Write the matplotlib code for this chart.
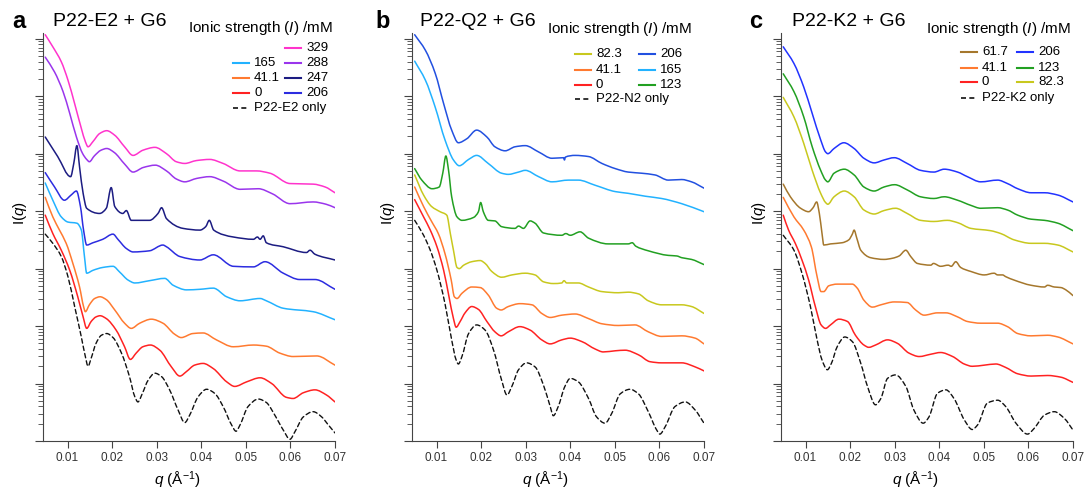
import numpy as np
import matplotlib
matplotlib.use("Agg")
import matplotlib.pyplot as plt
from matplotlib.lines import Line2D
from matplotlib.path import Path
from matplotlib.patches import PathPatch
from matplotlib.ticker import LogLocator, NullFormatter, FormatStrFormatter

plt.rcParams['font.family'] = ['Liberation Sans', 'DejaVu Sans']
plt.rcParams['mathtext.fontset'] = 'custom'
plt.rcParams['mathtext.rm'] = 'Liberation Sans'
plt.rcParams['mathtext.it'] = 'Liberation Sans:italic'

# SAXS curves: (q / A^-1, log10 I), offsets as drawn

# ---- panel a : P22-E2 + G6
e2_329 = [(0.0050,7.07),(0.0067,6.86),(0.0086,6.60),(0.0101,6.28),(0.0116,5.87),(0.0131,5.44),(0.0140,5.21),(0.0146,5.12),(0.0157,5.21),(0.0172,5.35),(0.0188,5.40),(0.0206,5.32),(0.0228,5.12),(0.0247,4.97),(0.0269,5.06),(0.0296,5.11),(0.0322,5.00),(0.0344,4.86),(0.0363,4.83),(0.0389,4.88),(0.0419,4.90),(0.0449,4.83),(0.0487,4.70),(0.0524,4.70),(0.0554,4.66),(0.0599,4.48),(0.0651,4.47),(0.0678,4.42),(0.0700,4.32)]
e2_288 = [(0.0050,6.68),(0.0071,6.42),(0.0090,6.08),(0.0105,5.70),(0.0120,5.29),(0.0134,5.00),(0.0143,4.90),(0.0149,4.86),(0.0160,4.96),(0.0175,5.06),(0.0188,5.09),(0.0205,5.02),(0.0228,4.82),(0.0247,4.68),(0.0270,4.76),(0.0297,4.80),(0.0322,4.70),(0.0344,4.56),(0.0363,4.51),(0.0390,4.57),(0.0419,4.60),(0.0450,4.52),(0.0487,4.38),(0.0528,4.39),(0.0560,4.30),(0.0599,4.13),(0.0651,4.16),(0.0680,4.12),(0.0700,4.06)]
e2_247 = [(0.0050,5.29),(0.0078,4.95),(0.0107,4.60),(0.0114,4.83),(0.0121,5.14),(0.0127,4.77),(0.0135,4.31),(0.0143,4.05),(0.0172,3.96),(0.0187,4.05),(0.0198,4.41),(0.0206,4.08),(0.0224,3.96),(0.0232,4.01),(0.0243,3.84),(0.0284,3.84),(0.0303,3.96),(0.0311,4.06),(0.0322,3.87),(0.0359,3.70),(0.0397,3.67),(0.0410,3.73),(0.0418,3.84),(0.0428,3.67),(0.0472,3.55),(0.0517,3.51),(0.0526,3.55),(0.0532,3.51),(0.0539,3.57),(0.0546,3.45),(0.0584,3.38),(0.0636,3.28),(0.0644,3.32),(0.0655,3.25),(0.0700,3.15)]
e2_206 = [(0.0050,4.67),(0.0071,4.42),(0.0093,4.19),(0.0108,4.28),(0.0120,4.35),(0.0129,4.08),(0.0136,3.67),(0.0143,3.41),(0.0157,3.45),(0.0179,3.51),(0.0202,3.60),(0.0213,3.51),(0.0232,3.35),(0.0247,3.29),(0.0284,3.31),(0.0314,3.41),(0.0322,3.38),(0.0352,3.21),(0.0397,3.15),(0.0427,3.24),(0.0472,3.04),(0.0517,3.03),(0.0543,3.12),(0.0584,2.92),(0.0621,2.81),(0.0655,2.81),(0.0700,2.64)]
e2_165 = [(0.0050,4.49),(0.0067,4.19),(0.0086,3.90),(0.0101,3.81),(0.0121,3.79),(0.0131,3.67),(0.0138,3.21),(0.0143,2.92),(0.0157,2.97),(0.0179,3.02),(0.0202,3.04),(0.0217,2.94),(0.0236,2.80),(0.0251,2.75),(0.0284,2.79),(0.0318,2.83),(0.0337,2.71),(0.0367,2.63),(0.0397,2.64),(0.0427,2.66),(0.0457,2.51),(0.0487,2.44),(0.0532,2.48),(0.0546,2.44),(0.0584,2.31),(0.0651,2.25),(0.0700,2.11)]
e2_41 = [(0.0050,4.24),(0.0067,3.90),(0.0082,3.67),(0.0097,3.44),(0.0112,3.09),(0.0127,2.68),(0.0136,2.34),(0.0140,2.25),(0.0149,2.37),(0.0161,2.48),(0.0173,2.51),(0.0187,2.46),(0.0206,2.28),(0.0228,2.05),(0.0243,1.96),(0.0262,2.05),(0.0288,2.12),(0.0314,2.05),(0.0340,1.86),(0.0355,1.80),(0.0381,1.87),(0.0404,1.88),(0.0434,1.76),(0.0472,1.64),(0.0517,1.67),(0.0546,1.65),(0.0576,1.53),(0.0606,1.47),(0.0659,1.48),(0.0700,1.32)]
e2_0 = [(0.0050,3.93),(0.0067,3.61),(0.0086,3.32),(0.0105,2.97),(0.0123,2.51),(0.0135,2.16),(0.0143,1.96),(0.0153,2.08),(0.0164,2.16),(0.0173,2.18),(0.0187,2.13),(0.0209,1.93),(0.0228,1.64),(0.0241,1.42),(0.0254,1.53),(0.0269,1.64),(0.0286,1.67),(0.0307,1.58),(0.0333,1.29),(0.0352,1.13),(0.0367,1.21),(0.0385,1.32),(0.0404,1.35),(0.0427,1.26),(0.0457,1.03),(0.0475,0.95),(0.0502,1.03),(0.0532,1.10),(0.0558,1.00),(0.0591,0.76),(0.0606,0.74),(0.0629,0.84),(0.0655,0.89),(0.0681,0.80),(0.0700,0.68)]
e2_only = [(0.0050,3.60),(0.0067,3.44),(0.0086,3.21),(0.0101,2.86),(0.0116,2.34),(0.0131,1.81),(0.0140,1.47),(0.0146,1.30),(0.0153,1.44),(0.0164,1.70),(0.0176,1.84),(0.0188,1.87),(0.0202,1.80),(0.0221,1.53),(0.0239,1.12),(0.0251,0.77),(0.0258,0.68),(0.0268,0.83),(0.0281,1.06),(0.0296,1.18),(0.0311,1.12),(0.0329,0.89),(0.0348,0.54),(0.0363,0.32),(0.0374,0.45),(0.0393,0.77),(0.0412,0.90),(0.0430,0.83),(0.0449,0.60),(0.0468,0.28),(0.0478,0.17),(0.0487,0.28),(0.0505,0.60),(0.0528,0.73),(0.0546,0.67),(0.0565,0.45),(0.0584,0.19),(0.0599,0.03),(0.0610,0.16),(0.0629,0.42),(0.0651,0.51),(0.0670,0.42),(0.0685,0.28),(0.0700,0.14)]

# ---- panel b : P22-Q2 + G6
q2_206 = [(0.0051,7.07),(0.0075,6.80),(0.0097,6.40),(0.0116,5.87),(0.0134,5.41),(0.0149,5.19),(0.0168,5.26),(0.0190,5.41),(0.0213,5.29),(0.0231,5.12),(0.0254,5.05),(0.0276,5.12),(0.0299,5.14),(0.0329,5.03),(0.0359,4.92),(0.0385,4.93),(0.0387,4.89),(0.0389,4.94),(0.0411,4.97),(0.0441,4.95),(0.0471,4.83),(0.0501,4.74),(0.0530,4.68),(0.0560,4.66),(0.0590,4.63),(0.0620,4.54),(0.0650,4.55),(0.0672,4.51),(0.0700,4.40)]
q2_165 = [(0.0051,6.61),(0.0075,6.28),(0.0097,5.81),(0.0119,5.24),(0.0138,4.89),(0.0151,4.79),(0.0172,4.90),(0.0190,4.97),(0.0216,4.83),(0.0246,4.66),(0.0261,4.64),(0.0284,4.68),(0.0299,4.71),(0.0329,4.60),(0.0359,4.51),(0.0396,4.54),(0.0418,4.54),(0.0456,4.45),(0.0501,4.34),(0.0530,4.31),(0.0568,4.26),(0.0605,4.22),(0.0650,4.13),(0.0700,3.99)]
q2_123 = [(0.0051,4.74),(0.0067,4.54),(0.0090,4.39),(0.0106,4.42),(0.0114,4.66),(0.0121,4.96),(0.0127,4.71),(0.0134,4.25),(0.0146,3.90),(0.0157,3.84),(0.0183,3.89),(0.0194,3.99),(0.0199,4.15),(0.0205,3.99),(0.0216,3.84),(0.0231,3.83),(0.0246,3.73),(0.0276,3.70),(0.0284,3.74),(0.0295,3.70),(0.0310,3.83),(0.0321,3.79),(0.0340,3.62),(0.0381,3.58),(0.0390,3.61),(0.0400,3.58),(0.0422,3.64),(0.0441,3.53),(0.0485,3.43),(0.0530,3.43),(0.0539,3.45),(0.0547,3.39),(0.0575,3.31),(0.0620,3.23),(0.0639,3.22),(0.0650,3.19),(0.0672,3.16),(0.0700,3.07)]
q2_82 = [(0.0051,4.63),(0.0071,4.28),(0.0089,4.08),(0.0108,3.99),(0.0123,3.93),(0.0131,3.61),(0.0138,3.32),(0.0146,3.02),(0.0151,3.00),(0.0161,3.06),(0.0179,3.12),(0.0198,3.14),(0.0209,3.09),(0.0224,2.95),(0.0246,2.85),(0.0269,2.89),(0.0299,2.92),(0.0321,2.89),(0.0340,2.77),(0.0362,2.74),(0.0381,2.75),(0.0386,2.79),(0.0392,2.75),(0.0418,2.75),(0.0441,2.68),(0.0471,2.60),(0.0508,2.58),(0.0530,2.59),(0.0553,2.56),(0.0575,2.44),(0.0605,2.37),(0.0650,2.37),(0.0672,2.34),(0.0700,2.22)]
q2_41 = [(0.0051,4.42),(0.0071,4.08),(0.0089,3.82),(0.0104,3.61),(0.0119,3.26),(0.0133,2.80),(0.0140,2.51),(0.0146,2.48),(0.0157,2.57),(0.0179,2.68),(0.0198,2.67),(0.0216,2.54),(0.0235,2.31),(0.0245,2.28),(0.0261,2.34),(0.0287,2.39),(0.0314,2.37),(0.0336,2.22),(0.0355,2.15),(0.0381,2.19),(0.0411,2.21),(0.0441,2.13),(0.0471,2.04),(0.0508,2.01),(0.0545,2.02),(0.0575,1.90),(0.0605,1.82),(0.0650,1.83),(0.0680,1.79),(0.0700,1.69)]
q2_0 = [(0.0051,4.20),(0.0071,3.90),(0.0086,3.67),(0.0101,3.38),(0.0116,2.97),(0.0128,2.51),(0.0138,2.13),(0.0144,1.98),(0.0153,2.08),(0.0164,2.23),(0.0179,2.34),(0.0194,2.29),(0.0213,2.08),(0.0231,1.90),(0.0245,1.83),(0.0261,1.90),(0.0287,1.99),(0.0310,1.93),(0.0336,1.76),(0.0355,1.69),(0.0381,1.76),(0.0400,1.79),(0.0426,1.73),(0.0456,1.60),(0.0474,1.55),(0.0501,1.57),(0.0523,1.58),(0.0553,1.50),(0.0579,1.38),(0.0605,1.36),(0.0650,1.36),(0.0680,1.29),(0.0700,1.22)]
n2_only = [(0.0051,3.84),(0.0071,3.58),(0.0086,3.32),(0.0101,2.97),(0.0119,2.39),(0.0134,1.76),(0.0144,1.41),(0.0149,1.34),(0.0157,1.47),(0.0172,1.87),(0.0190,2.02),(0.0209,1.93),(0.0228,1.58),(0.0246,1.06),(0.0258,0.80),(0.0269,0.95),(0.0284,1.24),(0.0302,1.36),(0.0321,1.29),(0.0340,0.97),(0.0355,0.60),(0.0362,0.44),(0.0373,0.60),(0.0388,0.95),(0.0400,1.09),(0.0418,1.03),(0.0441,0.74),(0.0459,0.42),(0.0478,0.31),(0.0493,0.48),(0.0512,0.82),(0.0534,0.90),(0.0553,0.82),(0.0575,0.51),(0.0594,0.19),(0.0601,0.12),(0.0613,0.25),(0.0635,0.60),(0.0658,0.68),(0.0680,0.54),(0.0700,0.31)]

# ---- panel c : P22-K2 + G6
k2_206 = [(0.0050,6.86),(0.0074,6.57),(0.0096,6.16),(0.0115,5.70),(0.0134,5.24),(0.0145,5.03),(0.0150,5.00),(0.0164,5.09),(0.0186,5.19),(0.0209,5.09),(0.0231,4.92),(0.0254,4.84),(0.0276,4.89),(0.0299,4.93),(0.0328,4.83),(0.0358,4.71),(0.0388,4.68),(0.0411,4.73),(0.0441,4.68),(0.0463,4.60),(0.0493,4.51),(0.0531,4.54),(0.0553,4.48),(0.0576,4.39),(0.0606,4.32),(0.0636,4.32),(0.0666,4.28),(0.0700,4.16)]
k2_123 = [(0.0050,6.39),(0.0074,6.08),(0.0096,5.64),(0.0115,5.12),(0.0134,4.71),(0.0145,4.54),(0.0150,4.51),(0.0164,4.66),(0.0187,4.73),(0.0209,4.63),(0.0231,4.42),(0.0254,4.35),(0.0276,4.42),(0.0300,4.46),(0.0328,4.37),(0.0358,4.25),(0.0388,4.22),(0.0411,4.25),(0.0441,4.19),(0.0471,4.10),(0.0493,4.05),(0.0531,4.06),(0.0553,4.02),(0.0576,3.93),(0.0606,3.86),(0.0636,3.84),(0.0666,3.79),(0.0700,3.66)]
k2_82 = [(0.0050,5.98),(0.0074,5.64),(0.0096,5.18),(0.0115,4.71),(0.0134,4.31),(0.0145,4.15),(0.0150,4.12),(0.0164,4.25),(0.0187,4.35),(0.0209,4.25),(0.0231,4.02),(0.0254,3.95),(0.0276,4.01),(0.0302,4.05),(0.0328,3.96),(0.0358,3.84),(0.0388,3.82),(0.0418,3.84),(0.0441,3.80),(0.0471,3.70),(0.0515,3.66),(0.0538,3.61),(0.0568,3.50),(0.0606,3.44),(0.0636,3.44),(0.0666,3.41),(0.0700,3.29)]
k2_61 = [(0.0050,4.47),(0.0066,4.25),(0.0089,4.05),(0.0107,3.99),(0.0117,4.06),(0.0125,4.16),(0.0131,3.96),(0.0137,3.61),(0.0141,3.41),(0.0156,3.43),(0.0182,3.45),(0.0197,3.50),(0.0205,3.60),(0.0209,3.67),(0.0215,3.53),(0.0224,3.32),(0.0246,3.19),(0.0276,3.16),(0.0295,3.18),(0.0310,3.22),(0.0325,3.32),(0.0336,3.21),(0.0351,3.09),(0.0381,3.06),(0.0387,3.09),(0.0403,3.04),(0.0420,3.06),(0.0427,3.04),(0.0437,3.12),(0.0448,3.02),(0.0471,2.95),(0.0501,2.89),(0.0523,2.92),(0.0531,2.89),(0.0542,2.89),(0.0549,2.86),(0.0568,2.80),(0.0606,2.71),(0.0636,2.68),(0.0643,2.71),(0.0658,2.68),(0.0673,2.67),(0.0684,2.63),(0.0700,2.53)]
k2_41 = [(0.0050,4.24),(0.0074,3.90),(0.0096,3.67),(0.0113,3.38),(0.0126,2.86),(0.0135,2.60),(0.0141,2.60),(0.0152,2.70),(0.0171,2.73),(0.0205,2.73),(0.0216,2.66),(0.0231,2.45),(0.0250,2.33),(0.0269,2.37),(0.0299,2.42),(0.0328,2.41),(0.0347,2.28),(0.0366,2.19),(0.0396,2.23),(0.0415,2.23),(0.0441,2.16),(0.0463,2.08),(0.0493,2.05),(0.0531,2.05),(0.0553,1.99),(0.0576,1.87),(0.0606,1.83),(0.0643,1.84),(0.0666,1.81),(0.0700,1.69)]
k2_0 = [(0.0050,3.93),(0.0062,3.67),(0.0077,3.44),(0.0092,3.15),(0.0107,2.80),(0.0122,2.34),(0.0135,2.02),(0.0145,1.96),(0.0156,2.02),(0.0175,2.12),(0.0194,2.08),(0.0212,1.84),(0.0231,1.67),(0.0242,1.63),(0.0257,1.67),(0.0284,1.76),(0.0306,1.70),(0.0332,1.53),(0.0355,1.47),(0.0381,1.51),(0.0403,1.54),(0.0430,1.47),(0.0456,1.34),(0.0474,1.30),(0.0501,1.32),(0.0527,1.34),(0.0549,1.28),(0.0576,1.17),(0.0606,1.13),(0.0643,1.14),(0.0673,1.11),(0.0700,1.02)]
k2_only = [(0.0050,3.58),(0.0074,3.32),(0.0092,2.92),(0.0111,2.34),(0.0126,1.76),(0.0137,1.41),(0.0149,1.24),(0.0158,1.35),(0.0171,1.64),(0.0188,1.81),(0.0205,1.73),(0.0224,1.35),(0.0239,0.95),(0.0257,0.63),(0.0269,0.74),(0.0284,1.09),(0.0302,1.15),(0.0325,0.95),(0.0343,0.54),(0.0364,0.31),(0.0377,0.42),(0.0396,0.83),(0.0415,0.89),(0.0433,0.74),(0.0456,0.37),(0.0474,0.20),(0.0486,0.28),(0.0508,0.66),(0.0531,0.71),(0.0549,0.60),(0.0572,0.31),(0.0598,0.12),(0.0613,0.22),(0.0636,0.45),(0.0658,0.51),(0.0681,0.39),(0.0700,0.19)]

c_329 = '#ff33cc'
c_288 = '#9a35ec'
c_247 = '#1c1c82'
c_206a = '#2c2ce0'
c_165 = '#22b2ff'
c_123 = '#22a022'
c_82 = '#c8c81e'
c_61 = '#a5772c'
c_41 = '#ff7a30'
c_0 = '#ff2222'
c_206b = '#2250e0'
c_206c = '#2233ff'

# each legend entry: (column, row, label, color)
panels = [
    dict(left=43, letter='a', lx=12, title='P22-E2 + G6', tx=53, hx=188, hy=28,
         curves=[(e2_329, c_329), (e2_288, c_288), (e2_247, c_247), (e2_206, c_206a),
                 (e2_165, c_165), (e2_41, c_41), (e2_0, c_0)],
         only=e2_only, rows=[48, 63, 78, 93, 108], cols=[233, 285],
         entries=[(1, 0, '329', c_329), (1, 1, '288', c_288), (1, 2, '247', c_247), (1, 3, '206', c_206a),
                  (0, 1, '165', c_165), (0, 2, '41.1', c_41), (0, 3, '0', c_0)],
         only_row=4, only_label='P22-E2 only', ylx=20, xlx=177),
    dict(left=412, letter='b', lx=375, title='P22-Q2 + G6', tx=420, hx=547, hy=29,
         curves=[(q2_206, c_206b), (q2_165, c_165), (q2_123, c_123), (q2_82, c_82),
                 (q2_41, c_41), (q2_0, c_0)],
         only=n2_only, rows=[54, 70, 85, 99], cols=[575, 639],
         entries=[(0, 0, '82.3', c_82), (0, 1, '41.1', c_41), (0, 2, '0', c_0),
                  (1, 0, '206', c_206b), (1, 1, '165', c_165), (1, 2, '123', c_123)],
         only_row=3, only_label='P22-N2 only', ylx=388, xlx=545),
    dict(left=781, letter='c', lx=749, title='P22-K2 + G6', tx=792, hx=926, hy=29,
         curves=[(k2_206, c_206c), (k2_123, c_123), (k2_82, c_82), (k2_61, c_61),
                 (k2_41, c_41), (k2_0, c_0)],
         only=k2_only, rows=[52, 68, 82, 98], cols=[961, 1017],
         entries=[(0, 0, '61.7', c_61), (0, 1, '41.1', c_41), (0, 2, '0', c_0),
                  (1, 0, '206', c_206c), (1, 1, '123', c_123), (1, 2, '82.3', c_82)],
         only_row=3, only_label='P22-K2 only', ylx=759, xlx=915),
]

W, H = 1086, 491
fig = plt.figure(figsize=(W / 100, H / 100), dpi=100)


def fx(px):
    return px / W


def fy(py):
    return 1 - py / H


def smooth_curve(ax, data, **kw):
    # draw a smooth (monotone cubic bezier) line through the read points
    arr = np.array(data)
    x, y = arr[:, 0], arr[:, 1]
    h = np.diff(x)
    d = np.diff(y) / h
    m = np.zeros_like(y)
    m[0], m[-1] = d[0], d[-1]
    for i in range(1, len(y) - 1):
        if d[i - 1] * d[i] > 0:
            w1 = 2 * h[i] + h[i - 1]
            w2 = h[i] + 2 * h[i - 1]
            m[i] = (w1 + w2) / (w1 / d[i - 1] + w2 / d[i])
    verts = [(x[0], y[0])]
    codes = [Path.MOVETO]
    for i in range(len(x) - 1):
        verts += [(x[i] + h[i] / 3, y[i] + m[i] * h[i] / 3),
                  (x[i + 1] - h[i] / 3, y[i + 1] - m[i + 1] * h[i] / 3),
                  (x[i + 1], y[i + 1])]
        codes += [Path.CURVE4] * 3
    verts = np.array(verts)
    verts[:, 1] = 10 ** verts[:, 1]
    ax.add_patch(PathPatch(Path(verts, codes), fill=False, capstyle='round',
                           joinstyle='round', **kw))


dash = (0, (3.2, 2.2))
for p in panels:
    ax = fig.add_axes([fx(p['left']), fy(441), 292 / W, 408 / H])
    for data, col in p['curves']:
        smooth_curve(ax, data, edgecolor=col, lw=1.1)
    smooth_curve(ax, p['only'], edgecolor='#111111', lw=1.0, linestyle=dash)

    ax.set_yscale('log')
    ax.set_ylim(1, 10 ** 7.1)
    ax.set_xlim(0.0045, 0.07)
    ax.set_xticks([0.01, 0.02, 0.03, 0.04, 0.05, 0.06, 0.07])
    ax.xaxis.set_major_formatter(FormatStrFormatter('%.2f'))
    ax.yaxis.set_major_locator(LogLocator(base=10, numticks=20))
    ax.yaxis.set_minor_locator(LogLocator(base=10, subs=np.arange(2, 10), numticks=200))
    ax.yaxis.set_major_formatter(NullFormatter())
    ax.yaxis.set_minor_formatter(NullFormatter())
    for s in ['top', 'right']:
        ax.spines[s].set_visible(False)
    for s in ['left', 'bottom']:
        ax.spines[s].set_linewidth(0.8)
        ax.spines[s].set_color('#444444')
    ax.tick_params(axis='x', direction='out', length=5, width=0.8, color='#444444',
                   labelsize=8.5, labelcolor='#333333', pad=3)
    ax.tick_params(axis='y', which='major', direction='out', length=6, width=0.8, color='#444444')
    ax.tick_params(axis='y', which='minor', direction='out', length=3.5, width=0.6, color='#444444')
    ax.patch.set_visible(False)

    # labels
    fig.text(fx(p['lx']), fy(22), p['letter'], fontsize=17, fontweight='bold', ha='left', va='center')
    fig.text(fx(p['tx']), fy(22), p['title'], fontsize=14, ha='left', va='center')
    fig.text(fx(p['hx']), fy(p['hy']), r'Ionic strength ($\mathit{I}$) /mM', fontsize=11,
             ha='left', va='center')
    fig.text(fx(p['ylx']), fy(213), r'I($\mathit{q}$)', fontsize=11, rotation=90,
             ha='center', va='center')
    fig.text(fx(p['xlx']), fy(480), r'$\mathit{q}$ (Å$^{-1}$)', fontsize=11,
             ha='center', va='center')

    # hand-placed legend
    for c, r, lab, col in p['entries']:
        x0 = p['cols'][c]
        y = p['rows'][r]
        fig.add_artist(Line2D([fx(x0), fx(x0 + 16)], [fy(y), fy(y)], color=col, lw=1.5))
        fig.text(fx(x0 + 21), fy(y), lab, fontsize=9.5, ha='left', va='center')
    x0 = p['cols'][0]
    y = p['rows'][p['only_row']]
    fig.add_artist(Line2D([fx(x0), fx(x0 + 16)], [fy(y), fy(y)], color='#111111', lw=1.2,
                          linestyle=(0, (3, 2))))
    fig.text(fx(x0 + 21), fy(y), p['only_label'], fontsize=9.5, ha='left', va='center')

fig.savefig('out.png', dpi=100)
